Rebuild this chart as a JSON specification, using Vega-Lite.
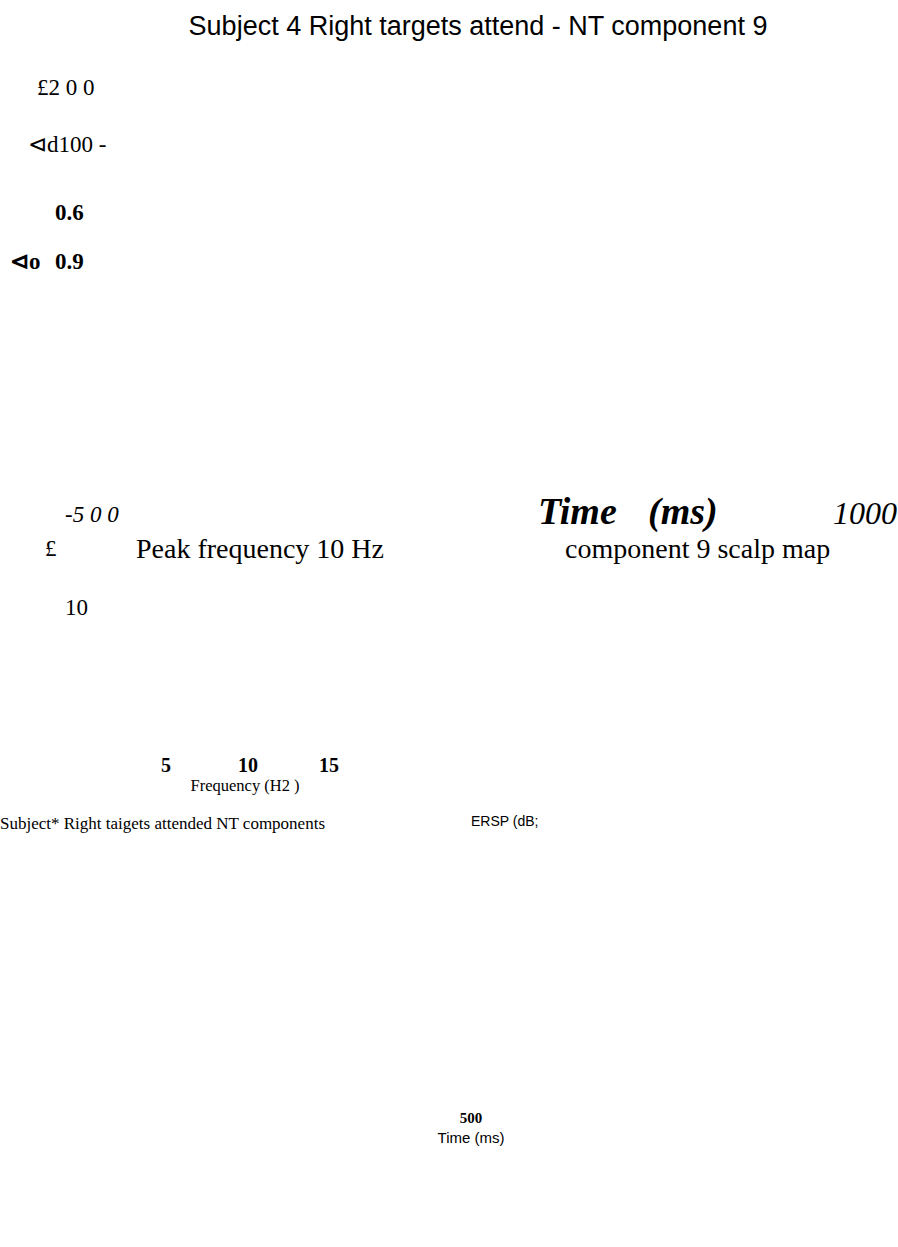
{
  "$schema": "https://vega.github.io/schema/vega-lite/v6.json",
  "width": 898,
  "height": 1247,
  "autosize": {"type": "fit", "contains": "padding"},
  "padding": 0,
  "background": "white",
  "config": {"view": {"stroke": null}},
  "data": {"values": [
    {"g": "title", "px": 478, "py": 27, "label": "Subject 4  Right targets attend -  NT component 9"},
    {"g": "serif", "px": 37, "py": 88, "label": "£2 0 0"},
    {"g": "serif", "px": 28, "py": 145, "label": "⊲d100 -"},
    {"g": "serif", "px": 45, "py": 549, "label": "£"},
    {"g": "serif", "px": 65, "py": 608, "label": "10"},
    {"g": "serif21", "px": 136, "py": 550, "label": "Peak frequency 10 Hz"},
    {"g": "serif21", "px": 565, "py": 550, "label": "component 9 scalp map"},
    {"g": "bold", "px": 55, "py": 213, "label": "0.6"},
    {"g": "bold", "px": 10, "py": 262, "label": "⊲o"},
    {"g": "bold", "px": 55, "py": 262, "label": "0.9"},
    {"g": "italic", "px": 65, "py": 515, "label": "-5 0 0"},
    {"g": "bolditalic", "px": 538, "py": 513, "label": "Time"},
    {"g": "bolditalic", "px": 648, "py": 513, "label": "(ms)"},
    {"g": "italic30", "px": 833, "py": 514, "label": "1000"},
    {"g": "tick", "px": 166, "py": 766, "label": "5"},
    {"g": "tick", "px": 248, "py": 766, "label": "10"},
    {"g": "tick", "px": 329, "py": 766, "label": "15"},
    {"g": "axtitle", "px": 245, "py": 786, "label": "Frequency (H2 )"},
    {"g": "small", "px": 0, "py": 824, "label": "Subject* Right taigets attended NT components"},
    {"g": "sans13", "px": 471, "py": 822, "label": "ERSP (dB;"},
    {"g": "boldsmall", "px": 471, "py": 1118, "label": "500"},
    {"g": "sans14", "px": 471, "py": 1138, "label": "Time (ms)"}
  ]},
  "encoding": {
    "x": {"field": "px", "type": "quantitative", "scale": {"domain": [0, 898], "nice": false, "zero": false}, "axis": null},
    "y": {"field": "py", "type": "quantitative", "scale": {"domain": [0, 1247], "nice": false, "zero": false, "reverse": true}, "axis": null},
    "text": {"field": "label", "type": "nominal"}
  },
  "layer": [
    {"transform": [{"filter": "datum.g == 'title'"}], "mark": {"type": "text", "font": "Liberation Sans", "fontSize": 27, "align": "center", "baseline": "middle", "color": "black"}},
    {"transform": [{"filter": "datum.g == 'serif'"}], "mark": {"type": "text", "font": "Liberation Serif", "fontSize": 23, "align": "left", "baseline": "middle", "color": "black"}},
    {"transform": [{"filter": "datum.g == 'serif21'"}], "mark": {"type": "text", "font": "Liberation Serif", "fontSize": 28, "align": "left", "baseline": "middle", "color": "black"}},
    {"transform": [{"filter": "datum.g == 'bold'"}], "mark": {"type": "text", "font": "Liberation Serif", "fontSize": 23, "fontWeight": "bold", "align": "left", "baseline": "middle", "color": "black"}},
    {"transform": [{"filter": "datum.g == 'italic'"}], "mark": {"type": "text", "font": "Liberation Serif", "fontSize": 23, "fontStyle": "italic", "align": "left", "baseline": "middle", "color": "black"}},
    {"transform": [{"filter": "datum.g == 'bolditalic'"}], "mark": {"type": "text", "font": "Liberation Serif", "fontSize": 38, "fontStyle": "italic", "fontWeight": "bold", "align": "left", "baseline": "middle", "color": "black"}},
    {"transform": [{"filter": "datum.g == 'italic30'"}], "mark": {"type": "text", "font": "Liberation Serif", "fontSize": 32, "fontStyle": "italic", "align": "left", "baseline": "middle", "color": "black"}},
    {"transform": [{"filter": "datum.g == 'tick'"}], "mark": {"type": "text", "font": "Liberation Serif", "fontSize": 20, "fontWeight": "bold", "align": "center", "baseline": "middle", "color": "black"}},
    {"transform": [{"filter": "datum.g == 'axtitle'"}], "mark": {"type": "text", "font": "Liberation Serif", "fontSize": 16.5, "align": "center", "baseline": "middle", "color": "black"}},
    {"transform": [{"filter": "datum.g == 'small'"}], "mark": {"type": "text", "font": "Liberation Serif", "fontSize": 17, "align": "left", "baseline": "middle", "color": "black"}},
    {"transform": [{"filter": "datum.g == 'sans13'"}], "mark": {"type": "text", "font": "Liberation Sans", "fontSize": 14, "align": "left", "baseline": "middle", "color": "black"}},
    {"transform": [{"filter": "datum.g == 'boldsmall'"}], "mark": {"type": "text", "font": "Liberation Serif", "fontSize": 15, "fontWeight": "bold", "align": "center", "baseline": "middle", "color": "black"}},
    {"transform": [{"filter": "datum.g == 'sans14'"}], "mark": {"type": "text", "font": "Liberation Sans", "fontSize": 15, "align": "center", "baseline": "middle", "color": "black"}}
  ]
}
